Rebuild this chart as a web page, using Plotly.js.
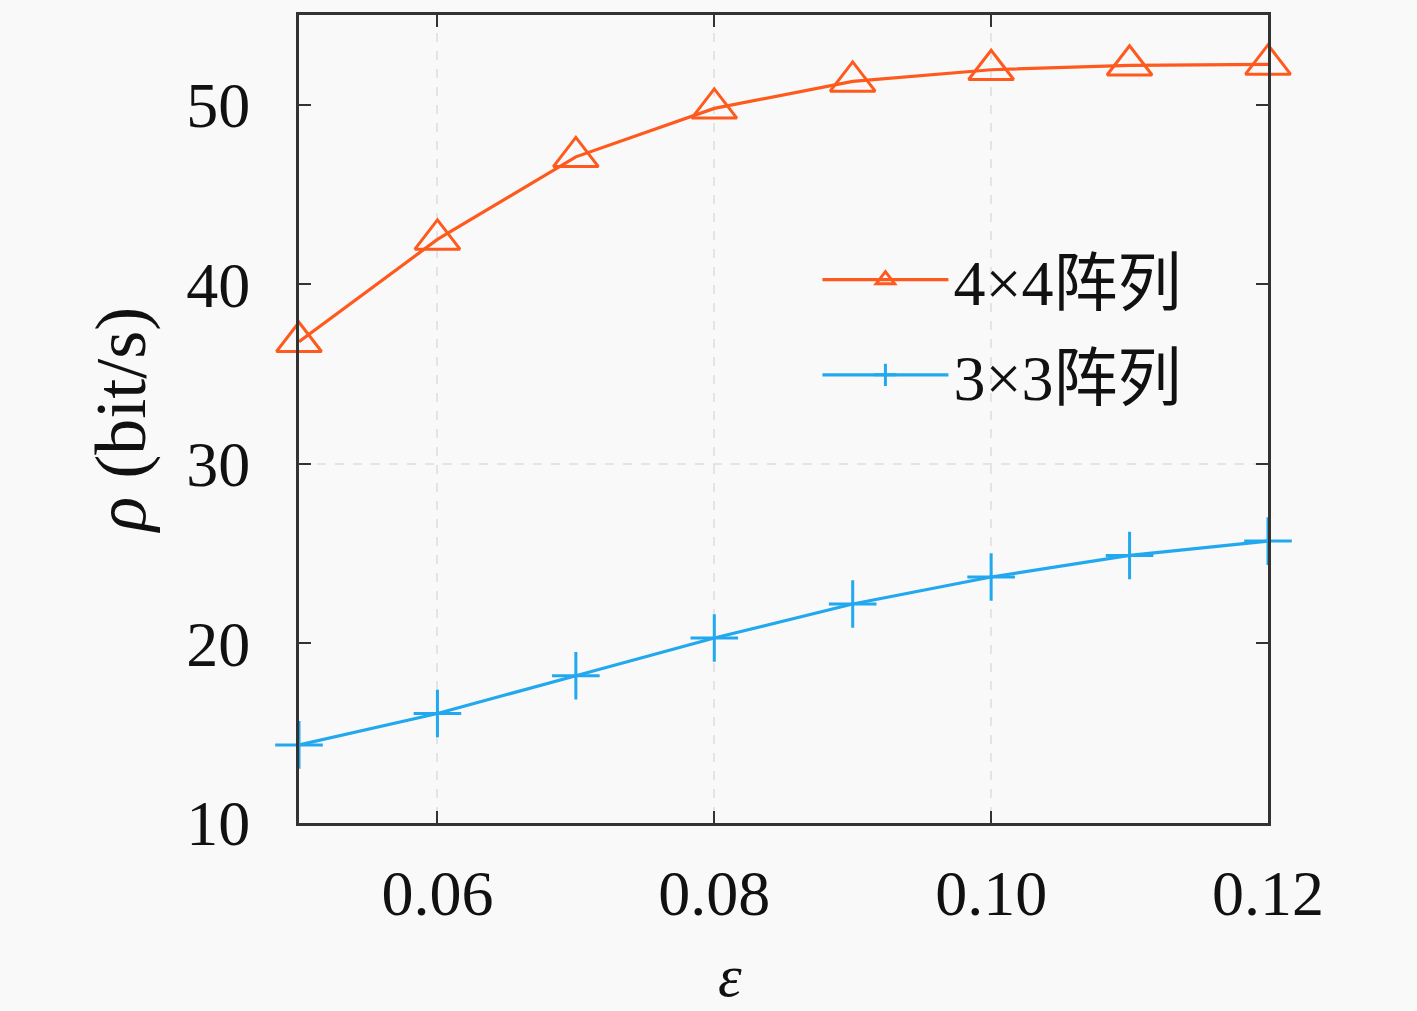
<!DOCTYPE html>
<html>
<head>
<meta charset="utf-8">
<script src="https://cdn.plot.ly/plotly-3.0.1.min.js"></script>
<style>
  html, body { margin:0; padding:0; background:#f9f9f9; }
  #chart { width:1417px; height:1011px; }
</style>
</head>
<body>
<div id="chart"></div>
<script>
// ── data ──
const epsilon  = [0.05, 0.06, 0.07, 0.08, 0.09, 0.10, 0.11, 0.12];
const rho4x4   = [36.8, 42.5, 47.1, 49.8, 51.3, 51.95, 52.2, 52.25];
const rho3x3   = [14.35, 16.1, 18.2, 20.3, 22.2, 23.7, 24.9, 25.7];
const xTicks   = [0.06, 0.08, 0.10, 0.12];
const xLabels  = ['0.06', '0.08', '0.10', '0.12'];
const yTicks   = [10, 20, 30, 40, 50];
const names    = ['4×4阵列', '3×3阵列'];

const ORANGE = '#ff5a1e';
const BLUE   = '#22a8ee';
const AXIS   = '#333333';
const FONT   = "'Liberation Serif', 'Times New Roman', serif";

const traces = [
  {
    x: epsilon, y: rho4x4, name: names[0], legendgroup: 'a', mode: 'lines+markers', cliponaxis: false,
    line: {color: ORANGE, width: 3.2},
    marker: {symbol: 'triangle-up-open', size: 39, color: ORANGE, line: {color: ORANGE, width: 3}},
  },
  {
    x: epsilon, y: rho3x3, name: names[1], legendgroup: 'b', mode: 'lines+markers', cliponaxis: false,
    line: {color: BLUE, width: 3.2},
    marker: {symbol: 'cross-thin-open', size: 34, color: BLUE, line: {color: BLUE, width: 3}},
  },
];

const axisBase = {
  showline: true, linecolor: AXIS, linewidth: 3, mirror: 'ticks',
  ticks: 'inside', ticklen: 12, tickwidth: 2, tickcolor: AXIS,
  zeroline: false,
  tickfont: {family: FONT, size: 64, color: '#111'},
};

const layout = {
  width: 1417, height: 1011,
  paper_bgcolor: '#f9f9f9', plot_bgcolor: '#f9f9f9',
  margin: {l: 299, r: 149, t: 15, b: 188},
  showlegend: true,
  legend: {
    x: 0.535, y: 0.732, xanchor: 'left', yanchor: 'top',
    bgcolor: 'rgba(0,0,0,0)', borderwidth: 0,
    itemwidth: 126, tracegroupgap: 9,
    font: {family: "'Liberation Serif', 'Noto Sans CJK SC', serif", size: 64, color: '#111'},
  },
  xaxis: {
    ...axisBase,
    range: [0.05, 0.12],
    tickvals: xTicks, ticktext: xLabels,
    showgrid: true, gridcolor: '#e4e4e4', gridwidth: 2, griddash: 'dash',
    ticklabelstandoff: 12,
  },
  yaxis: {
    ...axisBase,
    range: [10, 55],
    tickvals: yTicks,
    showgrid: false,
    ticklabelstandoff: 33,
    title: {text: '<i>ρ</i> (bit/s)', font: {family: FONT, size: 72, color: '#111'}, standoff: 18},
  },
  shapes: [
    {type: 'line', xref: 'paper', yref: 'y', x0: 0, x1: 1, y0: 30, y1: 30,
     line: {color: '#e4e4e4', width: 2, dash: 'dash'}, layer: 'below'},
  ],
  annotations: [
    {text: '<i>ε</i>', xref: 'paper', yref: 'paper', x: 0.445, y: 0, yanchor: 'top',
     yshift: -118, showarrow: false, font: {family: FONT, size: 60, color: '#111'}},
  ],
};

Plotly.newPlot('chart', traces, layout, {displayModeBar: false, staticPlot: true});
</script>
</body>
</html>
